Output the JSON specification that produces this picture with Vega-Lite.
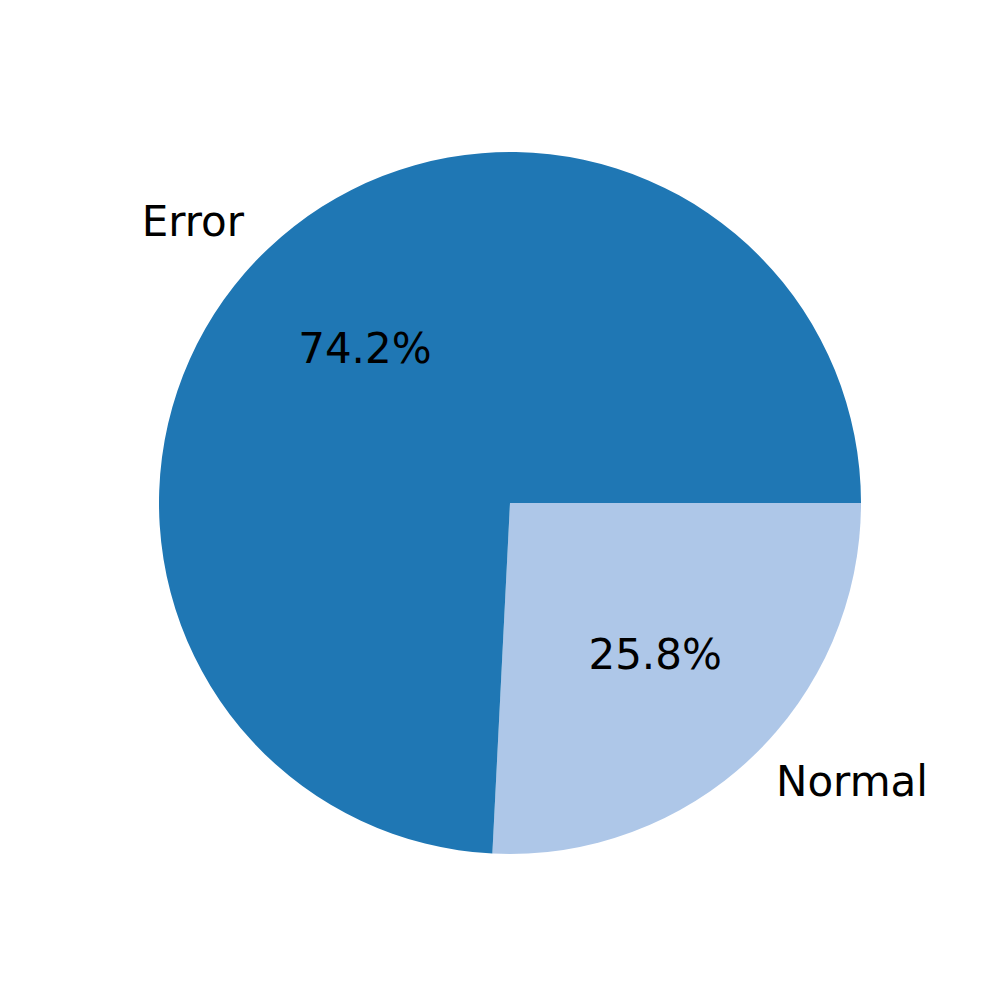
{
  "$schema": "https://vega.github.io/schema/vega-lite/v6.json",
  "autosize": {"type": "none"},
  "width": 974,
  "height": 988,
  "padding": {"left": 23, "top": 9, "right": 0, "bottom": 0},
  "background": "white",
  "config": {"view": {"stroke": null}, "text": {"font": "DejaVu Sans"}},
  "data": {"values": [
    {"category": "Normal", "value": 25.8, "pct": "25.8%", "ord": 1},
    {"category": "Error", "value": 74.2, "pct": "74.2%", "ord": 2}
  ]},
  "encoding": {
    "theta": {"field": "value", "type": "quantitative", "stack": true, "scale": {"range": [1.5708, 7.85398]}},
    "order": {"field": "ord", "type": "quantitative"}
  },
  "layer": [
    {
      "mark": {"type": "arc", "outerRadius": 351},
      "encoding": {
        "color": {"field": "category", "type": "nominal", "legend": null,
          "scale": {"domain": ["Error", "Normal"], "range": ["#1f77b4", "#aec7e8"]}}
      }
    },
    {
      "mark": {"type": "text", "radius": 386, "align": "right", "baseline": "middle", "fontSize": 42, "color": "black"},
      "encoding": {
        "text": {"condition": {"test": "datum.category === 'Error'", "field": "category"}, "value": ""}
      }
    },
    {
      "mark": {"type": "text", "radius": 386, "align": "left", "baseline": "middle", "fontSize": 42, "color": "black"},
      "encoding": {
        "text": {"condition": {"test": "datum.category === 'Normal'", "field": "category"}, "value": ""}
      }
    },
    {
      "mark": {"type": "text", "radius": 210.6, "align": "center", "baseline": "middle", "fontSize": 42, "color": "black"},
      "encoding": {
        "text": {"field": "pct", "type": "nominal"}
      }
    }
  ]
}
